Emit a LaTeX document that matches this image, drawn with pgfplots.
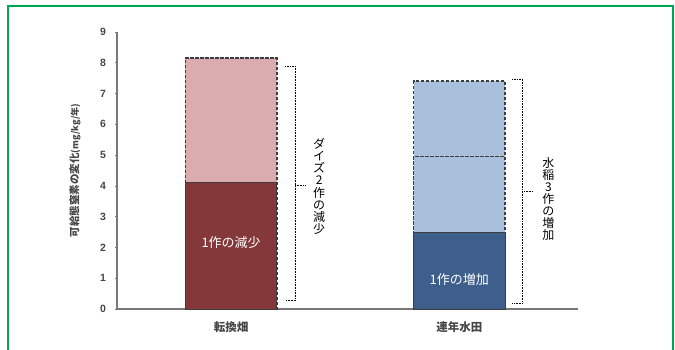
\documentclass[border=0pt]{standalone}
\usepackage{fontspec}
\usepackage{pgfplots}
\pgfplotsset{compat=1.18}
\setmainfont{Liberation Sans}
\newfontfamily\cjk{Noto Sans CJK JP}
\definecolor{frameg}{RGB}{0,166,81}
\definecolor{darkred}{RGB}{133,56,58}
\definecolor{pinkish}{RGB}{218,172,175}
\definecolor{darkblue}{RGB}{62,94,140}
\definecolor{lightblue}{RGB}{168,192,220}
\definecolor{edge}{RGB}{60,60,60}
\definecolor{axisgray}{RGB}{120,120,120}
\definecolor{txtgray}{RGB}{70,70,70}
\begin{document}
\begin{tikzpicture}[x=1pt,y=1pt]
\begin{axis}[
  at={(0,0)}, anchor=south west,
  scale only axis, width=461pt, height=277pt,
  xmin=-0.5, xmax=1.52, ymin=0, ymax=9,
  axis x line=bottom, axis y line=left,
  axis line style={-, axisgray, line width=1.1pt},
  ytick={0,1,...,9},
  xtick={0,1}, xticklabels={{\cjk\bfseries 転換畑},{\cjk\bfseries 連年水田}},
  x tick label style={font=\fontsize{11.5}{13}\selectfont, text=txtgray, yshift=-6pt},
  y tick label style={font=\fontsize{10.5}{12}\selectfont\bfseries, text=txtgray, xshift=-6pt},
  /pgf/number format/assume math mode=true,
  major x tick style={draw=none},
  major tick length=3pt,
  tick style={axisgray, line width=0.6pt},
  extra x ticks={0.5,1.5},
  extra x tick labels={},
  extra x tick style={major tick length=4pt, tick style={axisgray}},
  ylabel={\cjk\bfseries 可給態窒素の変化{\fontsize{9}{10}\selectfont\itshape (mg/kg/年)}},
  ylabel style={font=\fontsize{10.5}{12}\selectfont, text=txtgray, at={(axis description cs:-0.091,0.5)}, anchor=center},
  ybar, bar width=0.4, bar shift=0pt,
  clip=false,
]
\addplot[fill=pinkish, draw=edge, line width=1.6pt, dash pattern=on 3.5pt off 1.5pt] coordinates {(0,8.15)};
\addplot[fill=darkred, draw=edge, line width=0.8pt] coordinates {(0,4.1)};
\addplot[fill=lightblue, draw=edge, line width=1.6pt, dash pattern=on 3.5pt off 1.5pt] coordinates {(1,7.4)};
\addplot[fill=lightblue, draw=edge, line width=1.6pt, dash pattern=on 3.5pt off 1.5pt] coordinates {(1,4.95)};
\addplot[fill=darkblue, draw=edge, line width=0.8pt] coordinates {(1,2.5)};
% annotations
\node[text=white, font=\cjk\fontsize{13}{14}\selectfont] at (axis cs:0,2.15) {1作の減少};
\node[text=white, font=\cjk\fontsize{13}{14}\selectfont] at (axis cs:1,0.95) {1作の増加};
\draw[black, densely dotted, line width=0.6pt] (axis cs:0.237,7.89) -- (axis cs:0.28,7.89) -- (axis cs:0.28,0.27) -- (axis cs:0.237,0.27);
\draw[black, densely dotted, line width=0.6pt] (axis cs:0.28,4.03) -- (axis cs:0.325,4.03);
\draw[black, densely dotted, line width=0.6pt] (axis cs:1.232,7.47) -- (axis cs:1.276,7.47) -- (axis cs:1.276,0.2) -- (axis cs:1.232,0.2);
\draw[black, densely dotted, line width=0.6pt] (axis cs:1.276,3.83) -- (axis cs:1.32,3.83);
\node[align=center, font=\cjk\fontsize{12}{12.2}\selectfont, inner sep=0pt] at (axis cs:0.386,3.98) {ダ\\イ\\ズ\\2\\作\\の\\減\\少};
\node[align=center, font=\cjk\fontsize{12}{12}\selectfont, inner sep=0pt] at (axis cs:1.39,3.59) {水\\稲\\3\\作\\の\\増\\加};
\end{axis}
\draw[frameg, line width=2pt] (-108.5,-41) -- (-108.5,302.5) -- (556,302.5) -- (556,-41);
\pgfresetboundingbox
\useasboundingbox (-117,-41) rectangle (558,309);
\end{tikzpicture}
\end{document}
